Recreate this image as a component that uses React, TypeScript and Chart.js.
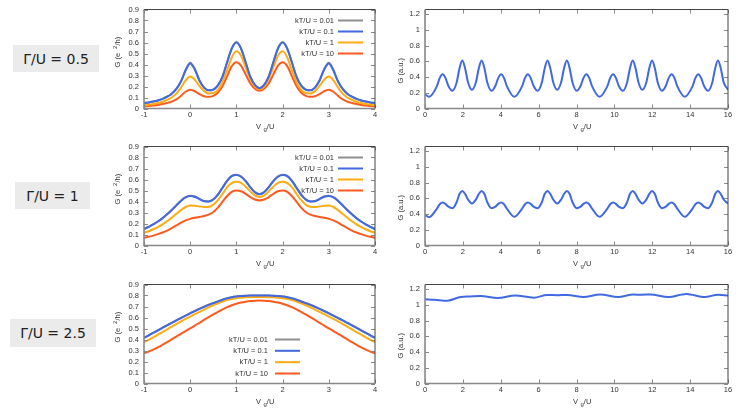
import { useEffect, useRef } from 'react';
import { Chart, registerables } from 'chart.js';
Chart.register(...registerables);

// ---------- data ----------
const X_LEFT = [
  -1.0, -0.9, -0.8, -0.7, -0.6, -0.5, -0.4, -0.3, -0.2, -0.1,
  0.0, 0.1, 0.2, 0.3, 0.4, 0.5, 0.6, 0.7, 0.8, 0.9,
  1.0, 1.1, 1.2, 1.3, 1.4, 1.5, 1.6, 1.7, 1.8, 1.9,
  2.0, 2.1, 2.2, 2.3, 2.4, 2.5, 2.6, 2.7, 2.8, 2.9,
  3.0, 3.1, 3.2, 3.3, 3.4, 3.5, 3.6, 3.7, 3.8, 3.9, 4.0,
];

const LEGEND_LABELS = ['kT/U = 0.01', 'kT/U = 0.1', 'kT/U = 1', 'kT/U = 10'];
const PANEL_LABELS = ['Γ/U = 0.5', 'Γ/U = 1', 'Γ/U = 2.5'];
const X_LEFT_TICKS = [-1, 0, 1, 2, 3, 4];
const X_RIGHT_TICKS = [0, 2, 4, 6, 8, 10, 12, 14, 16];

// Γ/U = 0.5
const A_GRAY = [
  0.050, 0.055, 0.063, 0.073, 0.087, 0.107, 0.135, 0.178, 0.247, 0.350,
  0.415, 0.357, 0.255, 0.190, 0.165, 0.172, 0.210, 0.292, 0.423, 0.549,
  0.605, 0.547, 0.420, 0.290, 0.215, 0.185, 0.215, 0.292, 0.423, 0.549,
  0.605, 0.547, 0.420, 0.290, 0.210, 0.172, 0.165, 0.190, 0.255, 0.357,
  0.415, 0.350, 0.247, 0.178, 0.135, 0.107, 0.087, 0.073, 0.063, 0.055, 0.050,
];
const A_BLUE = [
  0.050, 0.055, 0.063, 0.073, 0.087, 0.107, 0.135, 0.178, 0.245, 0.345,
  0.410, 0.355, 0.255, 0.190, 0.165, 0.172, 0.210, 0.290, 0.420, 0.545,
  0.600, 0.545, 0.420, 0.290, 0.215, 0.185, 0.215, 0.290, 0.420, 0.545,
  0.600, 0.545, 0.420, 0.290, 0.210, 0.172, 0.165, 0.190, 0.255, 0.355,
  0.410, 0.345, 0.245, 0.178, 0.135, 0.107, 0.087, 0.073, 0.063, 0.055, 0.050,
];
const A_ORANGE = [
  0.030, 0.035, 0.041, 0.050, 0.062, 0.078, 0.100, 0.135, 0.190, 0.255,
  0.290, 0.262, 0.205, 0.158, 0.137, 0.140, 0.170, 0.240, 0.350, 0.465,
  0.520, 0.480, 0.375, 0.270, 0.200, 0.175, 0.200, 0.270, 0.375, 0.480,
  0.520, 0.465, 0.350, 0.240, 0.170, 0.140, 0.137, 0.158, 0.205, 0.262,
  0.290, 0.255, 0.190, 0.135, 0.100, 0.078, 0.062, 0.050, 0.041, 0.035, 0.030,
];
const A_RED = [
  0.020, 0.023, 0.027, 0.032, 0.040, 0.050, 0.063, 0.083, 0.115, 0.152,
  0.170, 0.157, 0.130, 0.112, 0.106, 0.115, 0.145, 0.205, 0.295, 0.385,
  0.420, 0.390, 0.310, 0.230, 0.180, 0.162, 0.180, 0.230, 0.310, 0.390,
  0.420, 0.385, 0.295, 0.205, 0.145, 0.115, 0.106, 0.112, 0.130, 0.157,
  0.170, 0.152, 0.115, 0.083, 0.063, 0.050, 0.040, 0.032, 0.027, 0.023, 0.020,
];

// Γ/U = 1
const B_GRAY = [
  0.150, 0.170, 0.192, 0.218, 0.248, 0.283, 0.322, 0.366, 0.407, 0.439,
  0.453, 0.445, 0.423, 0.404, 0.401, 0.419, 0.463, 0.527, 0.590, 0.633,
  0.643, 0.628, 0.586, 0.531, 0.485, 0.467, 0.485, 0.531, 0.586, 0.628,
  0.643, 0.633, 0.590, 0.527, 0.463, 0.419, 0.401, 0.404, 0.423, 0.445,
  0.453, 0.439, 0.407, 0.366, 0.322, 0.283, 0.248, 0.218, 0.192, 0.170, 0.150,
];
const B_BLUE = [
  0.150, 0.170, 0.192, 0.218, 0.248, 0.283, 0.322, 0.365, 0.405, 0.437,
  0.450, 0.443, 0.422, 0.403, 0.400, 0.418, 0.462, 0.525, 0.588, 0.630,
  0.640, 0.625, 0.585, 0.530, 0.484, 0.466, 0.484, 0.530, 0.585, 0.625,
  0.640, 0.630, 0.588, 0.525, 0.462, 0.418, 0.400, 0.403, 0.422, 0.443,
  0.450, 0.437, 0.405, 0.365, 0.322, 0.283, 0.248, 0.218, 0.192, 0.170, 0.150,
];
const B_ORANGE = [
  0.115, 0.130, 0.148, 0.168, 0.192, 0.220, 0.252, 0.288, 0.322, 0.350,
  0.363, 0.362, 0.355, 0.350, 0.352, 0.372, 0.412, 0.470, 0.530, 0.568,
  0.580, 0.570, 0.535, 0.492, 0.455, 0.442, 0.455, 0.492, 0.535, 0.570,
  0.580, 0.568, 0.530, 0.470, 0.412, 0.372, 0.352, 0.350, 0.355, 0.362,
  0.363, 0.350, 0.322, 0.288, 0.252, 0.220, 0.192, 0.168, 0.148, 0.130, 0.115,
];
const B_RED = [
  0.070, 0.079, 0.090, 0.103, 0.118, 0.136, 0.158, 0.182, 0.207, 0.228,
  0.242, 0.252, 0.260, 0.268, 0.280, 0.305, 0.345, 0.398, 0.450, 0.488,
  0.500, 0.493, 0.470, 0.440, 0.418, 0.410, 0.418, 0.440, 0.470, 0.493,
  0.500, 0.488, 0.450, 0.398, 0.345, 0.305, 0.280, 0.268, 0.260, 0.252,
  0.242, 0.228, 0.207, 0.182, 0.158, 0.136, 0.118, 0.103, 0.090, 0.079, 0.070,
];

// Γ/U = 2.5
const C_GRAY = [
  0.416, 0.438, 0.461, 0.484, 0.507, 0.530, 0.552, 0.574, 0.596, 0.618,
  0.639, 0.659, 0.679, 0.698, 0.716, 0.732, 0.747, 0.762, 0.775, 0.785,
  0.792, 0.796, 0.798, 0.800, 0.801, 0.801, 0.801, 0.800, 0.798, 0.796,
  0.792, 0.785, 0.775, 0.762, 0.747, 0.732, 0.716, 0.698, 0.679, 0.659,
  0.639, 0.618, 0.596, 0.574, 0.552, 0.530, 0.507, 0.484, 0.461, 0.438, 0.416,
];
const C_BLUE = [
  0.415, 0.437, 0.460, 0.483, 0.506, 0.529, 0.551, 0.573, 0.595, 0.617,
  0.638, 0.658, 0.678, 0.697, 0.715, 0.731, 0.746, 0.761, 0.774, 0.784,
  0.791, 0.795, 0.797, 0.799, 0.800, 0.800, 0.800, 0.799, 0.797, 0.795,
  0.791, 0.784, 0.774, 0.761, 0.746, 0.731, 0.715, 0.697, 0.678, 0.658,
  0.638, 0.617, 0.595, 0.573, 0.551, 0.529, 0.506, 0.483, 0.460, 0.437, 0.415,
];
const C_ORANGE = [
  0.375, 0.397, 0.420, 0.444, 0.468, 0.492, 0.516, 0.540, 0.564, 0.587,
  0.608, 0.630, 0.651, 0.672, 0.692, 0.711, 0.728, 0.744, 0.758, 0.768,
  0.776, 0.780, 0.783, 0.785, 0.786, 0.786, 0.786, 0.785, 0.783, 0.780,
  0.776, 0.768, 0.758, 0.744, 0.728, 0.711, 0.692, 0.672, 0.651, 0.630,
  0.608, 0.587, 0.564, 0.540, 0.516, 0.492, 0.468, 0.444, 0.420, 0.397, 0.375,
];
const C_RED = [
  0.275, 0.290, 0.308, 0.329, 0.352, 0.376, 0.401, 0.427, 0.452, 0.477,
  0.501, 0.526, 0.552, 0.578, 0.604, 0.628, 0.652, 0.674, 0.694, 0.711,
  0.725, 0.736, 0.744, 0.750, 0.753, 0.754, 0.753, 0.750, 0.744, 0.736,
  0.725, 0.711, 0.694, 0.674, 0.652, 0.628, 0.604, 0.578, 0.552, 0.526,
  0.501, 0.477, 0.452, 0.427, 0.401, 0.376, 0.352, 0.329, 0.308, 0.290, 0.275,
];

// right-hand panels (Vg/U from 0 to 16)
const R_X = [
  0, 0.215, 0.63, 0.78, 0.93, 1.08, 1.23, 1.45, 1.67, 1.82, 1.97, 2.12, 2.27, 2.48,
  2.69, 2.84, 2.99, 3.14, 3.29, 3.51, 3.72, 3.87, 4.02, 4.17, 4.32,
  4.715, 5.13, 5.28, 5.43, 5.58, 5.73, 5.95, 6.17, 6.32, 6.47, 6.62, 6.77, 6.98,
  7.19, 7.34, 7.49, 7.64, 7.79, 8.01, 8.22, 8.37, 8.52, 8.67, 8.82,
  9.215, 9.63, 9.78, 9.93, 10.08, 10.23, 10.45, 10.67, 10.82, 10.97, 11.12, 11.27, 11.48,
  11.69, 11.84, 11.99, 12.14, 12.29, 12.51, 12.72, 12.87, 13.02, 13.17, 13.32,
  13.715, 14.13, 14.28, 14.43, 14.58, 14.73, 14.95, 15.17, 15.32, 15.47, 15.62, 15.77, 16,
];
const RA_Y = [
  0.18,
  0.150, 0.285, 0.39, 0.437, 0.39, 0.29, 0.225, 0.33, 0.51, 0.61, 0.51, 0.335, 0.24,
  0.335, 0.51, 0.61, 0.51, 0.33, 0.225, 0.29, 0.39, 0.437, 0.39, 0.285,
  0.150, 0.285, 0.39, 0.437, 0.39, 0.29, 0.225, 0.33, 0.51, 0.61, 0.51, 0.335, 0.24,
  0.335, 0.51, 0.61, 0.51, 0.33, 0.225, 0.29, 0.39, 0.437, 0.39, 0.285,
  0.150, 0.285, 0.39, 0.437, 0.39, 0.29, 0.225, 0.33, 0.51, 0.61, 0.51, 0.335, 0.24,
  0.335, 0.51, 0.61, 0.51, 0.33, 0.225, 0.29, 0.39, 0.437, 0.39, 0.285,
  0.150, 0.285, 0.39, 0.437, 0.39, 0.29, 0.225, 0.33, 0.51, 0.61, 0.51, 0.335, 0.24,
];
const RB_Y = [
  0.39,
  0.36, 0.47, 0.525, 0.547, 0.53, 0.495, 0.475, 0.55, 0.655, 0.695, 0.655, 0.585, 0.535,
  0.585, 0.655, 0.695, 0.655, 0.55, 0.475, 0.495, 0.53, 0.547, 0.525, 0.47,
  0.365, 0.47, 0.525, 0.547, 0.53, 0.495, 0.475, 0.55, 0.655, 0.695, 0.655, 0.585, 0.535,
  0.585, 0.655, 0.695, 0.655, 0.55, 0.475, 0.495, 0.53, 0.547, 0.525, 0.47,
  0.365, 0.47, 0.525, 0.547, 0.53, 0.495, 0.475, 0.55, 0.655, 0.695, 0.655, 0.585, 0.535,
  0.585, 0.655, 0.695, 0.655, 0.55, 0.475, 0.495, 0.53, 0.547, 0.525, 0.47,
  0.365, 0.47, 0.525, 0.547, 0.53, 0.495, 0.475, 0.55, 0.655, 0.695, 0.655, 0.585, 0.535,
];
const RC_X = [0, 0.5, 1.18, 1.88, 2.4, 2.93, 3.84, 4.77, 5.74, 6.45, 7.0, 7.5, 8.37, 9.25, 10.2, 11.0, 11.45, 11.9, 12.84, 13.8, 14.77, 15.47, 16];
const RC_Y = [1.071, 1.066, 1.054, 1.100, 1.107, 1.113, 1.088, 1.121, 1.092, 1.126, 1.124, 1.126, 1.100, 1.134, 1.100, 1.132, 1.130, 1.134, 1.100, 1.139, 1.100, 1.130, 1.121];

// ---------- style ----------
const GRAY = '#8f8f8f';
const BLUE = '#4169e1';
const ORANGE = '#ffac12';
const RED = '#ff5a1e';
const SERIES_COLORS = [GRAY, BLUE, ORANGE, RED];
const FONT = '"Liberation Sans", Arial, Helvetica, sans-serif';
const TEXT = '#333333';

type Run = { t?: string; gap?: number; size?: number; dy?: number };

function drawRuns(ctx: CanvasRenderingContext2D, x: number, y: number, runs: Run[], rotated: boolean) {
  ctx.save();
  ctx.translate(x, y);
  if (rotated) ctx.rotate(-Math.PI / 2);
  ctx.textAlign = 'left';
  ctx.textBaseline = 'alphabetic';
  ctx.fillStyle = TEXT;
  let cx = 0;
  for (const r of runs) {
    if (r.gap) { cx += r.gap; continue; }
    ctx.font = `${r.size ?? 7.5}px ${FONT}`;
    ctx.fillText(r.t || '', cx, r.dy ?? 0);
    cx += ctx.measureText(r.t || '').width;
  }
  ctx.restore();
}

const decorPlugin = {
  id: 'decor',
  afterDatasetsDraw(chart: any, _args: any, opts: any) {
    const { ctx, chartArea: a, scales } = chart;
    const xs = scales.x;
    const ys = scales.y;
    ctx.save();
    // inward tick marks on all four sides
    ctx.strokeStyle = '#8a8a8a';
    ctx.lineWidth = 1;
    ctx.beginPath();
    for (const t of xs.ticks) {
      const px = Math.round(xs.getPixelForValue(t.value)) + 0.5;
      ctx.moveTo(px, a.bottom); ctx.lineTo(px, a.bottom - 4);
      ctx.moveTo(px, a.top); ctx.lineTo(px, a.top + 4);
    }
    for (const t of ys.ticks) {
      const py = Math.round(ys.getPixelForValue(t.value)) + 0.5;
      ctx.moveTo(a.left, py); ctx.lineTo(a.left + 4, py);
      ctx.moveTo(a.right, py); ctx.lineTo(a.right - 4, py);
    }
    ctx.stroke();
    // frame
    ctx.strokeStyle = '#444';
    ctx.lineWidth = 1;
    ctx.beginPath();
    ctx.moveTo(a.left, a.top); ctx.lineTo(a.right, a.top); ctx.lineTo(a.right, a.bottom);
    ctx.stroke();
    ctx.strokeStyle = '#888';
    ctx.lineWidth = 1.6;
    ctx.beginPath();
    ctx.moveTo(a.left, a.top); ctx.lineTo(a.left, a.bottom); ctx.lineTo(a.right, a.bottom);
    ctx.stroke();
    ctx.restore();

    // axis titles
    const cx = (a.left + a.right) / 2;
    drawRuns(ctx, cx - 3.5, a.bottom + 20.4,
      [{ t: 'V' }, { gap: 2.5 }, { t: 'g', size: 6, dy: 2.5 }, { t: '/U' }], false);
    if (opts.yTitle === 'eh') {
      drawRuns(ctx, a.left - 24.3, a.bottom - 41,
        [{ t: 'G (e' }, { gap: 4 }, { t: '2', size: 6, dy: -3 }, { t: '/h)' }], true);
    } else {
      drawRuns(ctx, a.left - 22.3, a.bottom - 25, [{ t: 'G (a.u.)' }], true);
    }

    // legend
    const lg = opts.legend;
    if (lg) {
      ctx.save();
      ctx.font = `7.5px ${FONT}`;
      ctx.textAlign = 'right';
      ctx.textBaseline = 'middle';
      chart.data.datasets.forEach((ds: any, i: number) => {
        const y = a.top + lg.rows[i];
        ctx.fillStyle = TEXT;
        ctx.fillText(ds.label, a.right - lg.textRight, y);
        ctx.strokeStyle = ds.borderColor;
        ctx.lineWidth = 2;
        ctx.beginPath();
        ctx.moveTo(a.right - lg.line0, y);
        ctx.lineTo(a.right - lg.line1, y);
        ctx.stroke();
      });
      ctx.restore();
    }
  },
};

const fmt = (v: any) => String(Math.round(Number(v) * 100) / 100);

type PanelProps = {
  left: number; top: number; width: number; height: number;
  xMin: number; xMax: number; xStep: number;
  yMax: number; yStep: number; yAxisWidth: number; padRight: number;
  datasets: any[]; decor: any;
};

function Panel(p: PanelProps) {
  const ref = useRef<HTMLCanvasElement>(null);
  useEffect(() => {
    const tickFont = { family: FONT, size: 7.5 };
    const chart = new Chart(ref.current as HTMLCanvasElement, {
      type: 'line',
      data: { datasets: p.datasets },
      plugins: [decorPlugin as any],
      options: {
        animation: false,
        responsive: true,
        maintainAspectRatio: false,
        layout: { padding: { top: 9, right: p.padRight, left: 0, bottom: 0 } },
        plugins: {
          legend: { display: false },
          tooltip: { enabled: false },
          decor: p.decor,
        } as any,
        elements: { point: { radius: 0 }, line: { borderWidth: 2 } },
        scales: {
          x: {
            type: 'linear', min: p.xMin, max: p.xMax,
            grid: { display: false, drawTicks: false },
            border: { display: false },
            ticks: { stepSize: p.xStep, font: tickFont, color: TEXT, padding: 2, maxRotation: 0, autoSkip: false, callback: fmt },
            afterFit: (s: any) => { s.height = 28.5; },
          },
          y: {
            type: 'linear', min: 0, max: p.yMax,
            grid: { display: false, drawTicks: false },
            border: { display: false },
            ticks: { stepSize: p.yStep, includeBounds: false, font: tickFont, color: TEXT, padding: 5, autoSkip: false, callback: fmt },
            afterFit: (s: any) => { s.width = p.yAxisWidth; },
          },
        },
      } as any,
    });
    return () => chart.destroy();
  }, []);
  return (
    <div style={{ position: 'absolute', left: p.left, top: p.top, width: p.width, height: p.height }}>
      <canvas ref={ref} />
    </div>
  );
}

function leftDatasets(series: number[][]) {
  return series.map((ys, i) => ({
    label: LEGEND_LABELS[i],
    data: X_LEFT.map((x, j) => ({ x, y: ys[j] })),
    borderColor: SERIES_COLORS[i],
    backgroundColor: SERIES_COLORS[i],
    borderWidth: 2,
    pointRadius: 0,
    fill: false,
    cubicInterpolationMode: 'monotone',
    order: i === 0 ? 1 : 0,
  }));
}

function rightDataset(xs: number[], ys: number[]) {
  return [{
    label: 'G',
    data: xs.map((x, j) => ({ x, y: ys[j] })),
    borderColor: BLUE,
    backgroundColor: BLUE,
    borderWidth: 2,
    pointRadius: 0,
    fill: false,
    cubicInterpolationMode: 'monotone',
  }];
}

const LEGEND_TOP = { textRight: 41, line0: 37, line1: 12, rows: [11, 22, 33, 44] };
const LEGEND_BOTTOM = { textRight: 107, line0: 100, line1: 75, rows: [55, 66.3, 77.7, 89] };

const ROW_TOPS = [0, 137, 275];
const LABEL_BOXES = [
  { left: 13, top: 45, width: 86, height: 27 },
  { left: 15, top: 182, width: 75, height: 27 },
  { left: 10, top: 319, width: 86, height: 28 },
];

export default function App() {
  const leftSets = [
    leftDatasets([A_GRAY, A_BLUE, A_ORANGE, A_RED]),
    leftDatasets([B_GRAY, B_BLUE, B_ORANGE, B_RED]),
    leftDatasets([C_GRAY, C_BLUE, C_ORANGE, C_RED]),
  ];
  const rightSets = [
    rightDataset(R_X, RA_Y),
    rightDataset(R_X, RB_Y),
    rightDataset(RC_X, RC_Y),
  ];
  return (
    <div style={{ position: 'fixed', left: 0, top: 0, width: 748, height: 416, background: '#fff', overflow: 'hidden' }}>
      {PANEL_LABELS.map((lbl, i) => (
        <div key={'l' + i} style={{
          position: 'absolute', ...LABEL_BOXES[i], background: '#ebebeb',
          display: 'flex', alignItems: 'center', justifyContent: 'center',
          fontFamily: '"DejaVu Sans", sans-serif', fontSize: 14, color: '#222',
        }}>{lbl}</div>
      ))}
      {ROW_TOPS.map((top, i) => (
        <Panel key={'a' + i} left={100} top={top} width={285} height={137}
          xMin={-1} xMax={4} xStep={1} yMax={0.9} yStep={0.1} yAxisWidth={44} padRight={10}
          datasets={leftSets[i]}
          decor={{ yTitle: 'eh', legend: i === 2 ? LEGEND_BOTTOM : LEGEND_TOP }} />
      ))}
      {ROW_TOPS.map((top, i) => (
        <Panel key={'b' + i} left={385} top={top} width={353} height={137}
          xMin={0} xMax={16} xStep={2} yMax={1.26} yStep={0.2} yAxisWidth={40} padRight={10}
          datasets={rightSets[i]}
          decor={{ yTitle: 'au', legend: null }} />
      ))}
    </div>
  );
}
